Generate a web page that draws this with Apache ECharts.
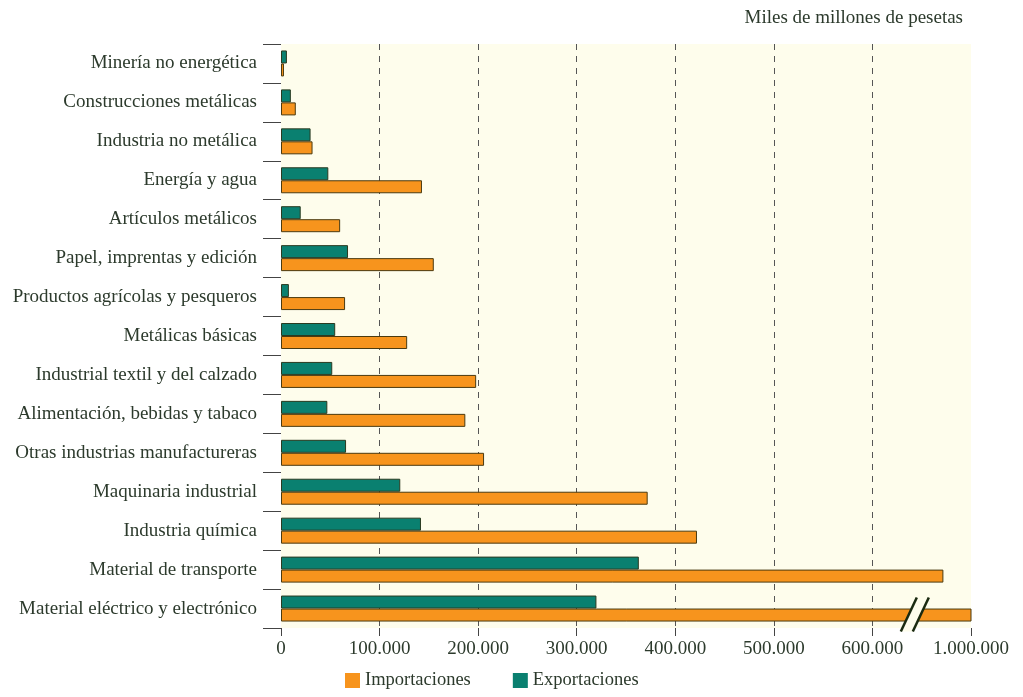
<!DOCTYPE html>
<html><head><meta charset="utf-8">
<script src="https://cdn.jsdelivr.net/npm/echarts@6/dist/echarts.min.js"></script>
<style>html,body{margin:0;padding:0;background:#fff}#c{width:1023px;height:697px}</style>
</head><body><div id="c"></div>
<script>
var categories = ['Minería no energética','Construcciones metálicas','Industria no metálica','Energía y agua','Artículos metálicos','Papel, imprentas y edición','Productos agrícolas y pesqueros','Metálicas básicas','Industrial textil y del calzado','Alimentación, bebidas y tabaco','Otras industrias manufactureras','Maquinaria industrial','Industria química','Material de transporte','Material eléctrico y electrónico'];
var importaciones = [3, 15, 32, 143, 60, 155, 65, 128, 198, 187, 206, 372, 422, 672, 1000];
var exportaciones = [6, 10, 30, 48, 20, 68, 8, 55, 52, 47, 66, 121, 142, 363, 320];
// axis is broken after 600: the last position (700) stands for 1.000.000
var tickLabels = ['0', '100.000', '200.000', '300.000', '400.000', '500.000', '600.000', '1.000.000'];

var txt = '#2c3a2c';
var font = 'Liberation Serif';

var chart = echarts.init(document.getElementById('c'), null, {renderer:'canvas'});
chart.setOption({
  animation: false,
  backgroundColor: '#ffffff',
  textStyle: {fontFamily: font, color: txt},
  title: {text: 'Miles de millones de pesetas', right: 55, top: 4,
    textStyle: {fontFamily: font, fontSize: 19, fontWeight: 'normal', color: txt}},
  legend: {data: ['Importaciones','Exportaciones'], bottom: 2, left: 340, itemWidth: 15, itemHeight: 15, itemGap: 42,
    icon: 'rect', textStyle: {fontFamily: font, fontSize: 18.5, color: txt}, itemStyle: {borderWidth: 0}},
  grid: {left: 281, right: 52, top: 44, bottom: 69, show: true, backgroundColor: '#fefdec', borderWidth: 0,
    containLabel: false, outerBoundsMode: 'none'},
  xAxis: {
    type: 'value', min: 0, max: 700, interval: 100,
    axisLine: {show: false},
    axisTick: {show: true, length: 8, lineStyle: {color: '#444', width: 1}},
    splitLine: {show: true, showMinLine: false, showMaxLine: false, lineStyle: {type: [6, 6], color: '#555', width: 1}},
    axisLabel: {fontFamily: font, fontSize: 19, color: txt, margin: 12, hideOverlap: false,
      formatter: function(v){ return tickLabels[Math.round(v / 100)] || ''; }}
  },
  yAxis: {
    type: 'category', data: categories, inverse: true,
    axisLine: {show: false},
    axisTick: {show: true, length: 18, lineStyle: {color: '#444', width: 1}},
    axisLabel: {fontFamily: font, fontSize: 19, color: txt, margin: 24}
  },
  series: [
    {name: 'Exportaciones', type: 'bar', data: exportaciones, barWidth: 13, barGap: '0%', clip: true,
      itemStyle: {color: '#0a8070', borderColor: '#2a3a20', borderWidth: 1}},
    {name: 'Importaciones', type: 'bar', data: importaciones, barWidth: 13, barGap: '0%', clip: true,
      itemStyle: {color: '#f7941d', borderColor: '#4a3a10', borderWidth: 1}}
  ]
});

// break mark "//" on the last bar
var last = categories[categories.length - 1];
var p = chart.convertToPixel({xAxisIndex: 0, yAxisIndex: 0}, [643, last]);
if (p) {
  var cx = p[0], cy = p[1] + 6;
  var h = 17, dx = 8, w = 12;
  chart.setOption({graphic: [
    {type: 'polygon', shape: {points: [[cx - dx - w/2, cy + h], [cx + dx - w/2, cy - h], [cx + dx + w/2, cy - h], [cx - dx + w/2, cy + h]]},
      style: {fill: '#fefdec'}, z: 100},
    {type: 'line', shape: {x1: cx - dx - w/2, y1: cy + h, x2: cx + dx - w/2, y2: cy - h}, style: {stroke: '#1a2a10', lineWidth: 2.5}, z: 101},
    {type: 'line', shape: {x1: cx - dx + w/2, y1: cy + h, x2: cx + dx + w/2, y2: cy - h}, style: {stroke: '#1a2a10', lineWidth: 2.5}, z: 101}
  ]});
}
</script></body></html>
